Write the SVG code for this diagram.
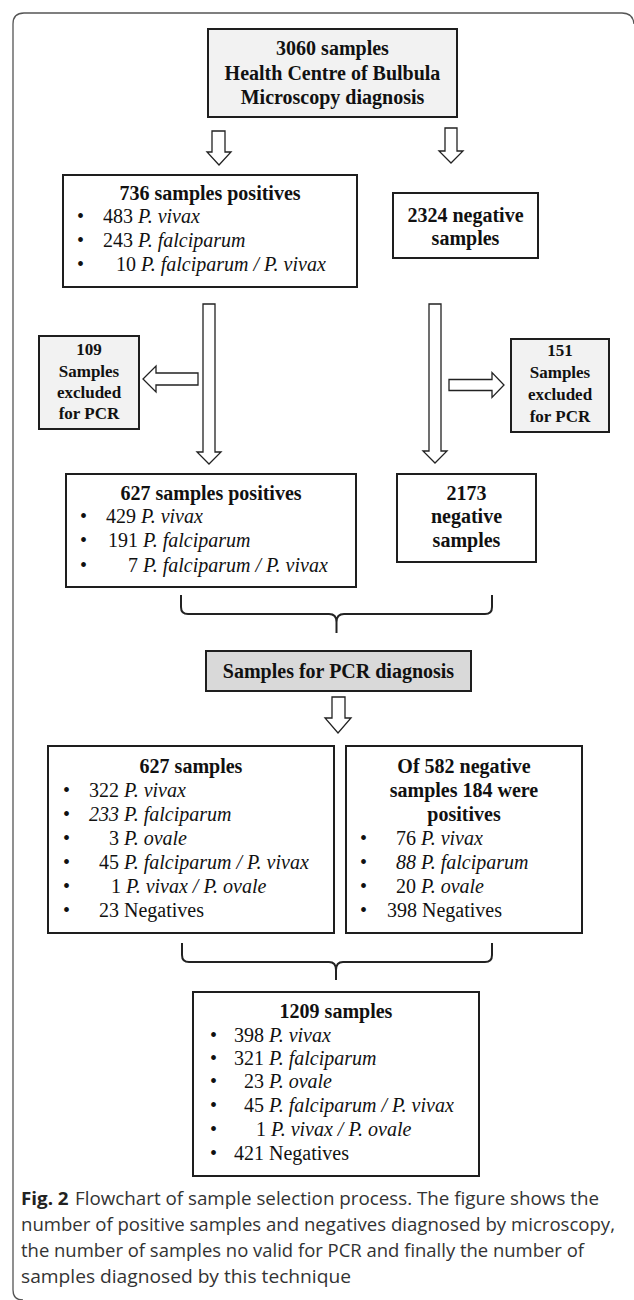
<svg xmlns="http://www.w3.org/2000/svg" width="634" height="1300" viewBox="0 0 634 1300">
<style>
.box{fill:#fff;stroke:#1e1e1e;stroke-width:2}
.lt{fill:#f2f2f2}
.dk{fill:#d9d9d9}
.arr{fill:#fff;stroke:#222;stroke-width:1.3;stroke-linejoin:miter}
.br{fill:none;stroke:#222;stroke-width:2}
text{font-family:"Liberation Serif","Times New Roman",serif;fill:#111}
.h{font-weight:bold;font-size:20px;text-anchor:middle}
.t{font-weight:bold;font-size:20px;text-anchor:middle}
.x{font-weight:bold;font-size:17px;text-anchor:middle}
.b{font-size:20px}
.i{font-style:italic}
.cap{font-family:"Open Sans","Noto Sans","Liberation Sans",sans-serif;font-size:17.5px;fill:#333}
</style>
<path d="M634 24 Q633 13 622 13 H24 Q13 13 13 24 V1290 Q13 1300 23 1300" fill="none" stroke="#555" stroke-width="1.3"/>

<g id="connectors">
<polygon class="arr" points="212,131 225,131 225,152 231,152 219,165 207,152 212,152"/>
<polygon class="arr" points="445,128 457,128 457,151 463,151 451,163 439,151 445,151"/>
<polygon class="arr" points="203,304 215,304 215,452 221,452 209,464 197,452 203,452"/>
<polygon class="arr" points="429,304 441,304 441,451 447,451 435,463 423,451 429,451"/>
<polygon class="arr" points="198,373 156,373 156,366 143,379 156,392 156,385 198,385"/>
<polygon class="arr" points="449,379.5 492,379.5 492,372.5 504,385 492,397.5 492,390.5 449,390.5"/>
<path class="br" d="M181 595 V607 Q181 614 188 614 H329 Q336.5 614 336.5 622 V633 M492 595 V607 Q492 614 485 614 H344 Q336.5 614 336.5 622"/>
<polygon class="arr" points="332,697 345,697 345,718 351,718 338,733 325,718 332,718"/>
<path class="br" d="M182 943 V955 Q182 962 189 962 H329 Q336 962 336 970 V980 M492 943 V955 Q492 962 485 962 H343 Q336 962 336 970"/>
</g>

<g id="n3060">
<rect class="box lt" x="208" y="29" width="249" height="88" stroke-width="2.5"/>
<text class="t" x="332.5" y="55">3060 samples</text>
<text class="t" x="332.5" y="80">Health Centre of Bulbula</text>
<text class="t" x="332.5" y="104">Microscopy diagnosis</text>
</g>

<g id="n736">
<rect class="box" x="63" y="175" width="294" height="112"/>
<text class="h" x="210" y="200">736 samples positives</text>
<text class="b" x="77" y="223">•</text><text class="b" x="103" y="223">483 <tspan class="i">P. vivax</tspan></text>
<text class="b" x="77" y="247">•</text><text class="b" x="103" y="247">243 <tspan class="i">P. falciparum</tspan></text>
<text class="b" x="77" y="271">•</text><text class="b" x="116" y="271">10 <tspan class="i">P. falciparum / P. vivax</tspan></text>
</g>

<g id="n2324">
<rect class="box" x="393" y="193" width="145" height="65"/>
<text class="h" x="465.5" y="221.5">2324 negative</text>
<text class="h" x="465.5" y="245">samples</text>
</g>

<g id="n109">
<rect class="box lt" x="39" y="336" width="100" height="93"/>
<text class="x" x="89" y="355">109</text>
<text class="x" x="89" y="377">Samples</text>
<text class="x" x="89" y="398">excluded</text>
<text class="x" x="89" y="419">for PCR</text>
</g>

<g id="n151">
<rect class="box lt" x="511" y="339" width="98" height="93"/>
<text class="x" x="560" y="356">151</text>
<text class="x" x="560" y="378">Samples</text>
<text class="x" x="560" y="400">excluded</text>
<text class="x" x="560" y="422">for PCR</text>
</g>

<g id="n627p">
<rect class="box" x="66" y="474" width="290" height="113"/>
<text class="h" x="211" y="500">627 samples positives</text>
<text class="b" x="80" y="523">•</text><text class="b" x="106" y="523">429 <tspan class="i">P. vivax</tspan></text>
<text class="b" x="80" y="547">•</text><text class="b" x="108" y="547">191 <tspan class="i">P. falciparum</tspan></text>
<text class="b" x="80" y="572">•</text><text class="b" x="128" y="572">7 <tspan class="i">P. falciparum / P. vivax</tspan></text>
</g>

<g id="n2173">
<rect class="box" x="397" y="474" width="139" height="88"/>
<text class="h" x="466.5" y="500">2173</text>
<text class="h" x="466.5" y="523">negative</text>
<text class="h" x="466.5" y="547">samples</text>
</g>

<g id="npcr">
<rect class="box dk" x="206" y="651" width="265" height="40"/>
<text class="h" x="338.5" y="678">Samples for PCR diagnosis</text>
</g>

<g id="n627s">
<rect class="box" x="48" y="746" width="286" height="187"/>
<text class="h" x="191" y="773">627 samples</text>
<text class="b" x="63" y="797">•</text><text class="b" x="89" y="797">322 <tspan class="i">P. vivax</tspan></text>
<text class="b" x="63" y="821">•</text><text class="b i" x="89" y="821">233 P. falciparum</text>
<text class="b" x="63" y="845">•</text><text class="b" x="109" y="845">3 <tspan class="i">P. ovale</tspan></text>
<text class="b" x="63" y="869">•</text><text class="b" x="99" y="869">45 <tspan class="i">P. falciparum / P. vivax</tspan></text>
<text class="b" x="63" y="893">•</text><text class="b" x="111" y="893">1 <tspan class="i">P. vivax / P. ovale</tspan></text>
<text class="b" x="63" y="917">•</text><text class="b" x="99" y="917">23 Negatives</text>
</g>

<g id="n582">
<rect class="box" x="346" y="746" width="236" height="187"/>
<text class="h" x="464" y="773">Of 582 negative</text>
<text class="h" x="464" y="797">samples 184 were</text>
<text class="h" x="464" y="821">positives</text>
<text class="b" x="360" y="845">•</text><text class="b" x="396" y="845">76 <tspan class="i">P. vivax</tspan></text>
<text class="b" x="360" y="869">•</text><text class="b i" x="396" y="869">88 P. falciparum</text>
<text class="b" x="360" y="893">•</text><text class="b" x="396" y="893">20 <tspan class="i">P. ovale</tspan></text>
<text class="b" x="360" y="917">•</text><text class="b" x="387" y="917">398 Negatives</text>
</g>

<g id="n1209">
<rect class="box" x="193" y="992" width="286" height="184"/>
<text class="h" x="336" y="1018">1209 samples</text>
<text class="b" x="210" y="1042">•</text><text class="b" x="234" y="1042">398 <tspan class="i">P. vivax</tspan></text>
<text class="b" x="210" y="1065">•</text><text class="b" x="234" y="1065">321 <tspan class="i">P. falciparum</tspan></text>
<text class="b" x="210" y="1088">•</text><text class="b" x="244" y="1088">23 <tspan class="i">P. ovale</tspan></text>
<text class="b" x="210" y="1112">•</text><text class="b" x="244" y="1112">45 <tspan class="i">P. falciparum / P. vivax</tspan></text>
<text class="b" x="210" y="1136">•</text><text class="b" x="256" y="1136">1 <tspan class="i">P. vivax / P. ovale</tspan></text>
<text class="b" x="210" y="1160">•</text><text class="b" x="234" y="1160">421 Negatives</text>
</g>

<g id="caption">
<text class="cap" x="21" y="1205" textLength="578" lengthAdjust="spacingAndGlyphs"><tspan font-weight="bold" fill="#222">Fig. 2</tspan><tspan dx="6">Flowchart of sample selection process. The figure shows the</tspan></text>
<text class="cap" x="21" y="1231" textLength="594" lengthAdjust="spacingAndGlyphs">number of positive samples and negatives diagnosed by microscopy,</text>
<text class="cap" x="21" y="1257" textLength="563" lengthAdjust="spacingAndGlyphs">the number of samples no valid for PCR and finally the number of</text>
<text class="cap" x="21" y="1283" textLength="330" lengthAdjust="spacingAndGlyphs">samples diagnosed by this technique</text>
</g>
</svg>
